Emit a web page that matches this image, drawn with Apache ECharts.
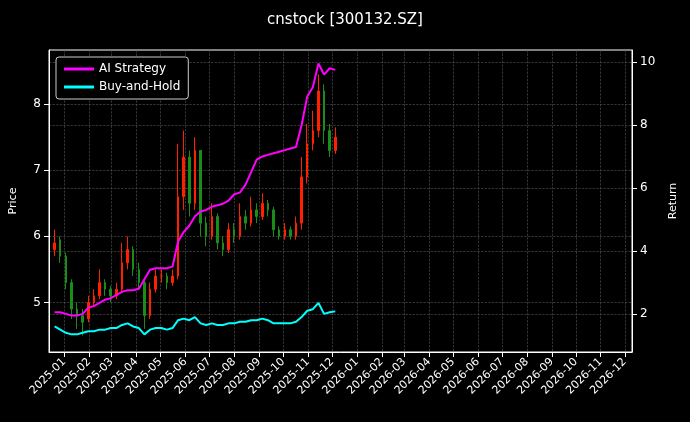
<!DOCTYPE html>
<html><head><meta charset="utf-8">
<script src="https://cdn.jsdelivr.net/npm/echarts@6/dist/echarts.min.js"></script>
<style>html,body{margin:0;background:#000}#c{width:690px;height:422px}</style>
</head><body><div id="c"></div>
<script>
const startDate = '2024-12-20';
const closes = [5.9,5.7,5.3,4.9,4.8,4.7,5.0,5.1,5.3,5.2,5.1,5.2,5.6,5.8,5.5,5.3,4.8,5.2,5.4,5.4,5.3,5.4,6.6,7.2,6.5,7.3,6.2,6.0,6.3,5.9,5.8,6.1,6.0,6.3,6.2,6.4,6.3,6.5,6.4,6.1,6.0,6.1,6.0,6.2,6.9,7.4,7.6,8.2,7.6,7.3,7.5];
const opens  = [5.8,5.95,5.7,5.3,4.9,4.8,4.75,5.0,5.1,5.3,5.2,5.1,5.2,5.6,5.8,5.5,5.3,4.8,5.2,5.4,5.4,5.3,5.4,6.6,7.2,6.5,7.3,6.2,6.0,6.3,5.9,5.8,6.1,6.0,6.3,6.2,6.4,6.3,6.5,6.4,6.1,6.0,6.1,6.0,6.2,6.9,7.4,7.6,8.2,7.6,7.3];
const highs  = [6.1,6.0,5.75,5.35,5.0,4.9,5.1,5.2,5.5,5.35,5.25,5.3,5.9,6.0,5.85,5.6,5.35,5.3,5.5,5.5,5.45,5.5,7.4,7.6,7.3,7.5,7.3,6.3,6.5,6.35,6.0,6.2,6.2,6.5,6.4,6.6,6.5,6.65,6.55,6.45,6.15,6.2,6.15,6.3,7.2,7.7,7.9,8.45,8.3,7.7,7.65];
const lows   = [5.7,5.6,5.2,4.75,4.6,4.5,4.7,4.95,5.05,5.1,5.0,5.05,5.15,5.5,5.4,5.2,4.6,4.75,5.15,5.3,5.2,5.25,5.35,6.4,6.3,6.4,6.0,5.85,5.95,5.8,5.7,5.75,5.9,5.95,6.1,6.15,6.2,6.25,6.3,6.0,5.95,5.95,5.95,5.95,6.1,6.8,7.3,7.5,7.4,7.2,7.25];
const aiStrategy = [2.05,2.05,2.0,1.95,1.95,2.0,2.2,2.25,2.35,2.45,2.5,2.6,2.7,2.75,2.75,2.8,3.1,3.4,3.45,3.45,3.45,3.5,4.3,4.6,4.8,5.1,5.25,5.3,5.4,5.45,5.5,5.6,5.8,5.85,6.1,6.5,6.9,7.0,7.05,7.1,7.15,7.2,7.25,7.3,8.0,8.9,9.2,9.95,9.6,9.8,9.75];
const buyHold = [1.6,1.5,1.4,1.35,1.35,1.4,1.45,1.45,1.5,1.5,1.55,1.55,1.65,1.7,1.6,1.55,1.35,1.5,1.55,1.55,1.5,1.55,1.8,1.85,1.8,1.9,1.7,1.65,1.7,1.65,1.65,1.7,1.7,1.75,1.75,1.8,1.8,1.85,1.8,1.7,1.7,1.7,1.7,1.75,1.9,2.1,2.15,2.35,2.0,2.05,2.08];
const priceTicks = [5,6,7,8];
const returnTicks = [2,4,6,8,10];

const DAY = 86400000;
const t0 = new Date(startDate + 'T00:00:00Z').getTime();
const dates = closes.map((_, i) => t0 + i * 7 * DAY);
const candle = closes.map((c, i) => [dates[i], opens[i], c, lows[i], highs[i]]);
const ai = aiStrategy.map((v, i) => [dates[i], v]);
const bh = buyHold.map((v, i) => [dates[i], v]);

const split = {show:true, lineStyle:{color:'#555', type:'dashed', width:0.6}};
const chart = echarts.init(document.getElementById('c'));
chart.setOption({
  backgroundColor:'#000',
  animation:false,
  title:{text:'cnstock [300132.SZ]', left:'center', top:8, textStyle:{color:'#fff', fontSize:15, fontWeight:'normal', fontFamily:'DejaVu Sans'}},
  legend:{left:56, top:57, orient:'vertical', itemGap:6, backgroundColor:'#000', borderColor:'#ccc', borderWidth:1, borderRadius:3, padding:[6,8],
    textStyle:{color:'#fff', fontSize:12, fontFamily:'DejaVu Sans'}, itemWidth:30, itemHeight:3,
    data:[{name:'AI Strategy', icon:'rect'},{name:'Buy-and-Hold', icon:'rect'}]},
  grid:{left:48, right:58, top:50, bottom:70, show:true, borderColor:'#fff', borderWidth:1, backgroundColor:'transparent'},
  xAxis:{type:'time', min:Date.UTC(2024,11,13), max:Date.UTC(2026,11,10),
    minInterval:28*DAY, maxInterval:31*DAY,
    axisLine:{lineStyle:{color:'#fff'}}, axisTick:{lineStyle:{color:'#fff'}},
    axisLabel:{color:'#fff', rotate:45, fontSize:11, fontFamily:'DejaVu Sans', formatter:'{yyyy}-{MM}', hideOverlap:false},
    splitLine:split},
  yAxis:[
    {type:'value', min:4.25, max:8.82, name:'Price', nameLocation:'middle', nameGap:30, nameTextStyle:{color:'#fff', fontSize:11, fontFamily:'DejaVu Sans'},
      axisLine:{show:true, lineStyle:{color:'#fff'}}, axisTick:{show:true, customValues:priceTicks, lineStyle:{color:'#fff'}},
      axisLabel:{color:'#fff', fontSize:12, customValues:priceTicks, fontFamily:'DejaVu Sans'}, splitLine:split},
    {type:'value', min:0.79, max:10.38, name:'Return', nameLocation:'middle', nameGap:36, nameTextStyle:{color:'#fff', fontSize:11, fontFamily:'DejaVu Sans'},
      axisLine:{show:true, lineStyle:{color:'#fff'}}, axisTick:{show:true, customValues:returnTicks, lineStyle:{color:'#fff'}},
      axisLabel:{color:'#fff', fontSize:12, customValues:returnTicks, fontFamily:'DejaVu Sans'}, splitLine:split}
  ],
  series:[
    {type:'candlestick', name:'Price', yAxisIndex:0, data:candle, barWidth:2,
      itemStyle:{color:'#ff2000', color0:'#1a8c1a', borderColor:'#ff2000', borderColor0:'#1a8c1a'}},
    {type:'line', name:'AI Strategy', yAxisIndex:1, data:ai, showSymbol:false, lineStyle:{color:'#ff00ff', width:2}, itemStyle:{color:'#ff00ff'}},
    {type:'line', name:'Buy-and-Hold', yAxisIndex:1, data:bh, showSymbol:false, lineStyle:{color:'#00ffff', width:2}, itemStyle:{color:'#00ffff'}}
  ]
});
</script></body></html>
